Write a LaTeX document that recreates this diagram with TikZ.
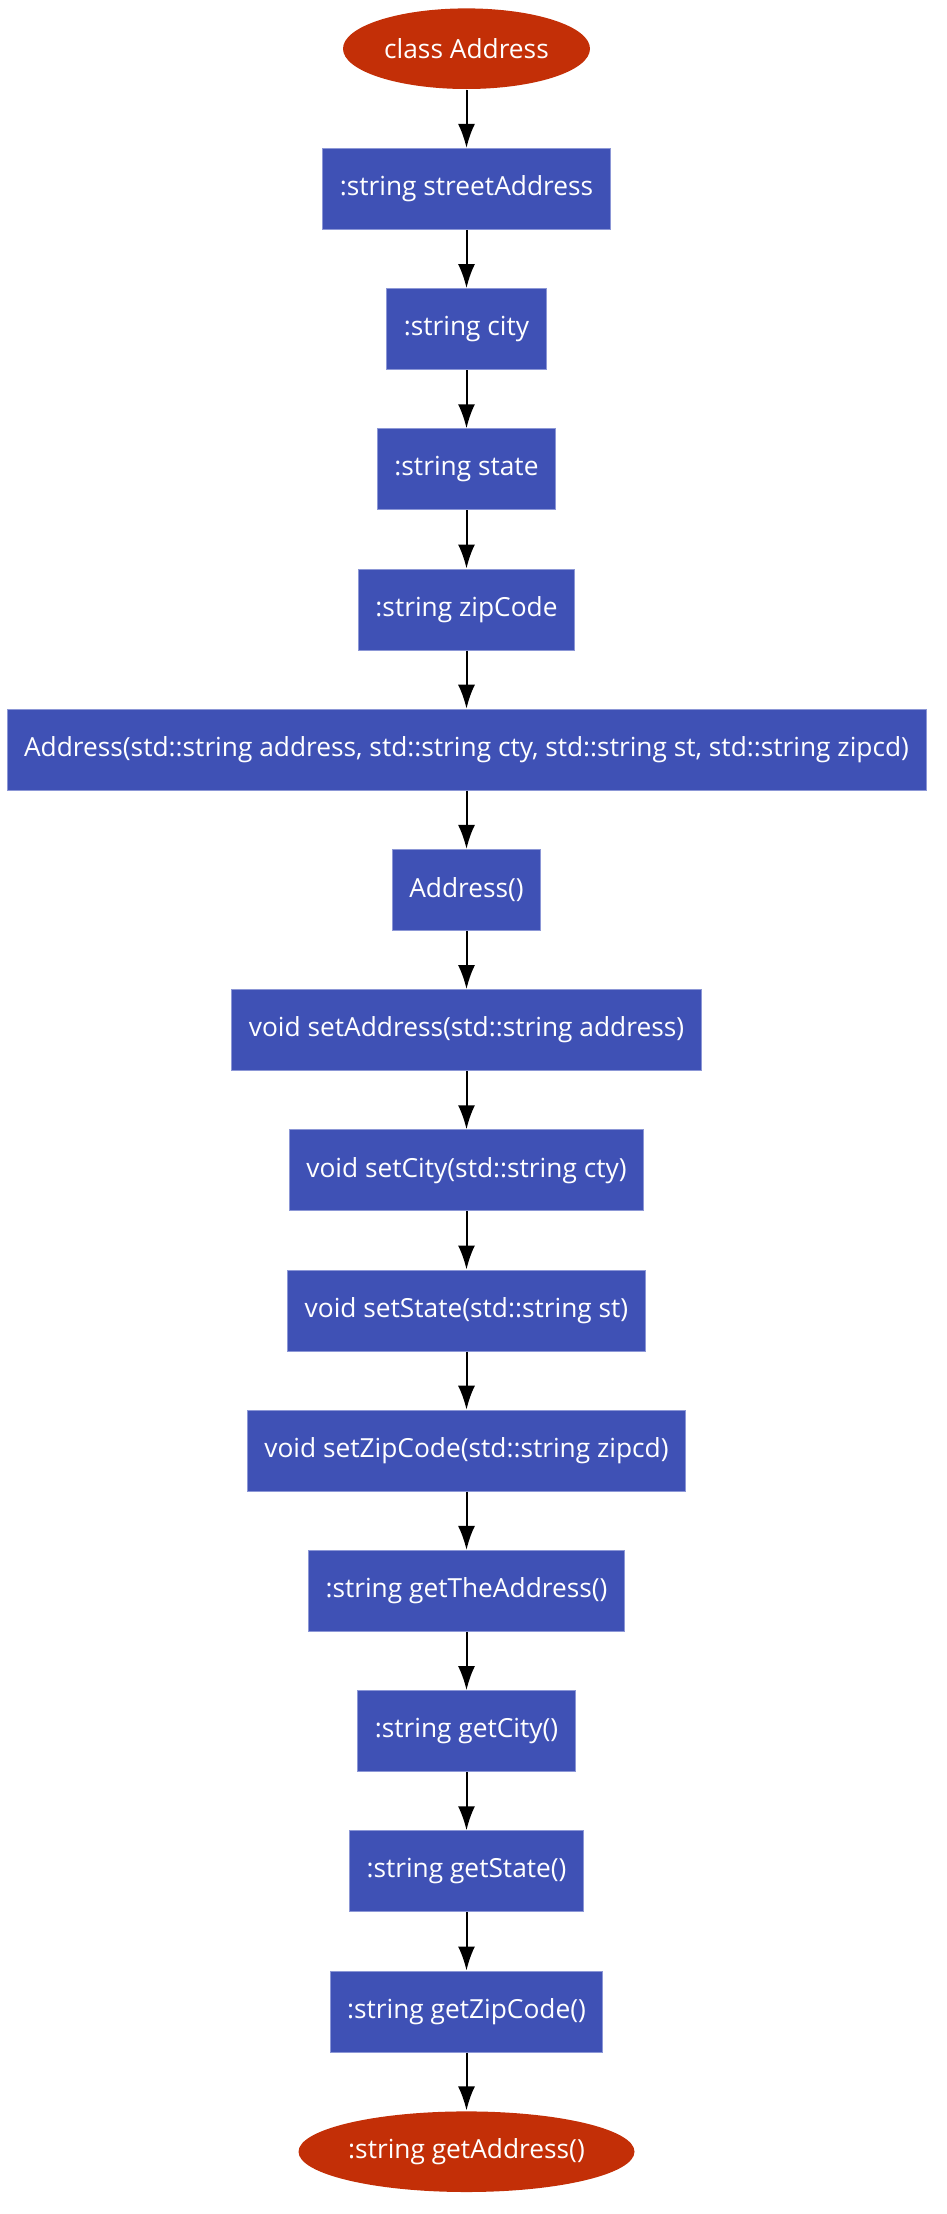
\documentclass[tikz,border=0pt]{standalone}
\usepackage{fontspec}
\setmainfont{Open Sans}
\usetikzlibrary{positioning,shapes.geometric,arrows.meta}
\definecolor{memberblue}{HTML}{3F51B5}
\definecolor{memberrim}{HTML}{8C97D6}
\definecolor{classred}{HTML}{C32F07}

\begin{document}
\begin{tikzpicture}[x=1pt, y=1pt, -{Latex[length=24pt,width=17pt]}, line width=2pt,
node distance =140.2pt, on grid,
member/.style ={ rectangle, fill=memberblue, draw=memberrim, line width=1pt,
text=white, minimum height=81pt, inner xsep=17pt, font=\fontsize{26.3}{31}\selectfont},
classend/.style ={ ellipse, fill=classred, text=white, minimum height=80.6pt,
inner sep=0pt, font=\fontsize{26.3}{31}\selectfont}]
\useasboundingbox (0,0) rectangle (947,-2214);
\node[classend, minimum width=247pt] (ClassAddress) at (466.5,-48.7) {class Address};
\node[member] (StreetAddress) [below=of ClassAddress] {:string streetAddress};
\node[member] (City) [below=of StreetAddress] {:string city};
\node[member] (State) [below=of City] {:string state};
\node[member] (ZipCode) [below=of State] {:string zipCode};
\node[member] (FullCtor) [below=of ZipCode] {Address(std::string address, std::string cty, std::string st, std::string zipcd)};
\node[member] (DefaultCtor) [below=of FullCtor] {Address()};
\node[member] (SetAddress) [below=of DefaultCtor] {void setAddress(std::string address)};
\node[member] (SetCity) [below=of SetAddress] {void setCity(std::string cty)};
\node[member] (SetState) [below=of SetCity] {void setState(std::string st)};
\node[member] (SetZipCode) [below=of SetState] {void setZipCode(std::string zipcd)};
\node[member] (GetTheAddress) [below=of SetZipCode] {:string getTheAddress()};
\node[member] (GetCity) [below=of GetTheAddress] {:string getCity()};
\node[member] (GetState) [below=of GetCity] {:string getState()};
\node[member] (GetZipCode) [below=of GetState] {:string getZipCode()};
\node[classend, minimum width=336pt] (GetAddress) [below=of GetZipCode] {:string getAddress()};

\path (ClassAddress) edge node {} (StreetAddress);
\path (StreetAddress) edge node {} (City);
\path (City) edge node {} (State);
\path (State) edge node {} (ZipCode);
\path (ZipCode) edge node {} (FullCtor);
\path (FullCtor) edge node {} (DefaultCtor);
\path (DefaultCtor) edge node {} (SetAddress);
\path (SetAddress) edge node {} (SetCity);
\path (SetCity) edge node {} (SetState);
\path (SetState) edge node {} (SetZipCode);
\path (SetZipCode) edge node {} (GetTheAddress);
\path (GetTheAddress) edge node {} (GetCity);
\path (GetCity) edge node {} (GetState);
\path (GetState) edge node {} (GetZipCode);
\path (GetZipCode) edge node {} (GetAddress);
\end{tikzpicture}
\end{document}
